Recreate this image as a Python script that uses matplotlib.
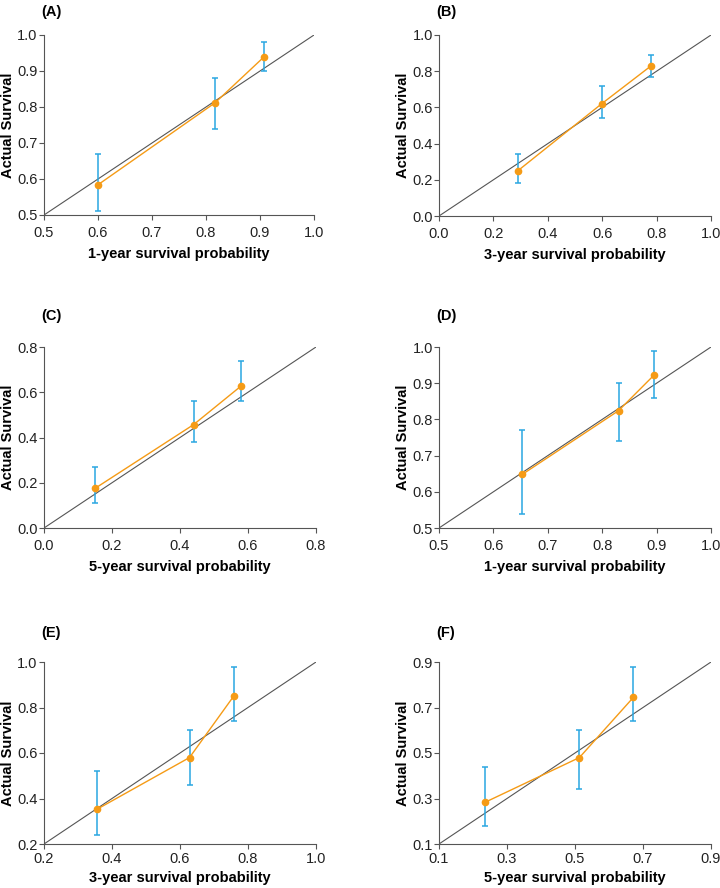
import numpy as np
import matplotlib
matplotlib.use("Agg")
import matplotlib.pyplot as plt

plt.rcParams['font.family'] = ['Liberation Sans', 'DejaVu Sans']

# calibration data per panel: predicted x, observed y, CI lower/upper
panel_labels = ['(A)', '(B)', '(C)', '(D)', '(E)', '(F)']
xlabels = ['1-year survival probability', '3-year survival probability',
           '5-year survival probability', '1-year survival probability',
           '3-year survival probability', '5-year survival probability']

pred_a = [0.600, 0.817, 0.908]
obs_a = [0.584, 0.812, 0.940]
lo_a = [0.51, 0.74, 0.90]
hi_a = [0.67, 0.88, 0.98]

pred_b = [0.290, 0.598, 0.780]
obs_b = [0.250, 0.620, 0.830]
lo_b = [0.18, 0.54, 0.77]
hi_b = [0.34, 0.72, 0.89]

pred_c = [0.150, 0.440, 0.580]
obs_c = [0.175, 0.457, 0.628]
lo_c = [0.11, 0.38, 0.56]
hi_c = [0.27, 0.56, 0.74]

pred_d = [0.653, 0.830, 0.895]
obs_d = [0.648, 0.824, 0.922]
lo_d = [0.54, 0.74, 0.86]
hi_d = [0.77, 0.90, 0.99]

pred_e = [0.355, 0.628, 0.758]
obs_e = [0.352, 0.580, 0.850]
lo_e = [0.24, 0.46, 0.74]
hi_e = [0.52, 0.70, 0.98]

pred_f = [0.235, 0.513, 0.672]
obs_f = [0.283, 0.480, 0.745]
lo_f = [0.18, 0.34, 0.64]
hi_f = [0.44, 0.60, 0.88]

ticks_a = [0.5, 0.6, 0.7, 0.8, 0.9, 1.0]
ticks_b = [0.0, 0.2, 0.4, 0.6, 0.8, 1.0]
ticks_c = [0.0, 0.2, 0.4, 0.6, 0.8]
ticks_d = [0.5, 0.6, 0.7, 0.8, 0.9, 1.0]
ticks_e = [0.2, 0.4, 0.6, 0.8, 1.0]
ticks_f = [0.1, 0.3, 0.5, 0.7, 0.9]

panels = [
    (pred_a, obs_a, lo_a, hi_a, ticks_a),
    (pred_b, obs_b, lo_b, hi_b, ticks_b),
    (pred_c, obs_c, lo_c, hi_c, ticks_c),
    (pred_d, obs_d, lo_d, hi_d, ticks_d),
    (pred_e, obs_e, lo_e, hi_e, ticks_e),
    (pred_f, obs_f, lo_f, hi_f, ticks_f),
]

# axes boxes in pixels (left, top, right, bottom) and panel-label centre y
W, H = 720, 888
boxes = [
    (44, 35, 314, 215), (439, 35, 711, 216),
    (44, 347, 316, 528), (439, 347, 711, 528),
    (44, 662, 316, 844), (439, 662, 711, 844),
]
label_y = [12, 12, 316, 316, 633, 633]

ORANGE = '#F59B16'
BLUE = '#2AA7E1'
GRAY = '#555555'
FS = 10.5

fig = plt.figure(figsize=(W / 100, H / 100), dpi=100)

for i, (px, oy, lo, hi, ticks) in enumerate(panels):
    l, t, r, b = boxes[i]
    bottom_row = i >= 4
    ax = fig.add_axes([l / W, 1 - b / H, (r - l) / W, (b - t) / H])
    lim = (ticks[0], ticks[-1])
    ax.plot(lim, lim, color=GRAY, lw=0.8, zorder=1)
    px = np.array(px)
    oy = np.array(oy)
    yerr = [oy - np.array(lo), np.array(hi) - oy]
    ax.errorbar(px, oy, yerr=yerr, fmt='none', ecolor=BLUE, elinewidth=1.1,
                capsize=2, capthick=1.1, zorder=2)
    ax.plot(px, oy, color=ORANGE, lw=1.0, marker='o', ms=4.5, zorder=3)
    ax.set_xlim(lim)
    ax.set_ylim(lim)
    ax.set_xticks(ticks)
    ax.set_yticks(ticks)
    ax.set_xticklabels([f'{v:.1f}' for v in ticks])
    ax.set_yticklabels([f'{v:.1f}' for v in ticks])
    for s in ['top', 'right']:
        ax.spines[s].set_visible(False)
    for s in ['left', 'bottom']:
        ax.spines[s].set_color(GRAY)
        ax.spines[s].set_linewidth(0.8)
    ax.tick_params(colors=GRAY, labelcolor='#222222', labelsize=FS,
                   length=3.5, width=0.8)
    ax.tick_params(axis='x', pad=2.5 if bottom_row else 4.5)
    ax.tick_params(axis='y', pad=1)
    ax.set_xlabel(xlabels[i], fontsize=FS, fontweight='bold',
                  labelpad=3 if bottom_row else 5)
    ax.set_ylabel('Actual Survival', fontsize=FS, fontweight='bold', labelpad=1.5)
    fig.text((l - 3) / W, 1 - label_y[i] / H, panel_labels[i],
             fontsize=FS, fontweight='bold', ha='left', va='center')

fig.savefig('out.png', dpi=100)
